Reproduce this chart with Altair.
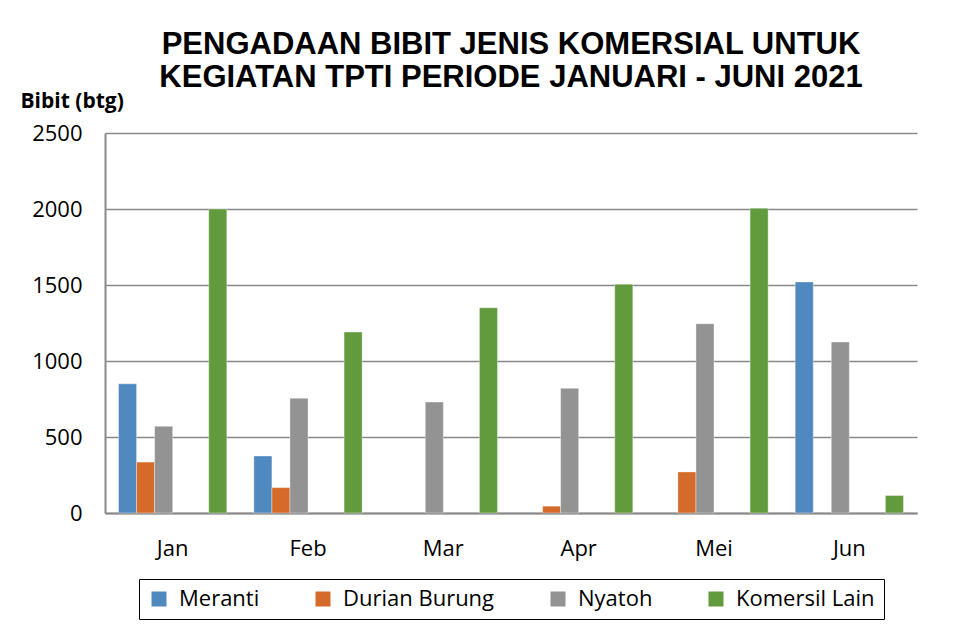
import altair as alt
import pandas as pd

months = ["Jan", "Feb", "Mar", "Apr", "Mei", "Jun"]
series = ["Meranti", "Durian Burung", "Nyatoh", "Komersil Lain"]
meranti = [850, 375, 0, 0, 0, 1520]
durian_burung = [335, 167, 0, 45, 270, 0]
nyatoh = [570, 755, 730, 820, 1245, 1125]
komersil_lain = [2000, 1190, 1350, 1505, 2005, 115]
colors = ["#4F89C0", "#D56B2A", "#939393", "#629B3E"]
# slot order within each month (two empty slots as in the original)
slots = ["Meranti", "Durian Burung", "Nyatoh", "_slot4", "_slot5", "Komersil Lain"]
y_ticks = [0, 500, 1000, 1500, 2000, 2500]

rows = []
for name, vals in zip(series, [meranti, durian_burung, nyatoh, komersil_lain]):
    for m, v in zip(months, vals):
        rows.append({"Bulan": m, "Jenis": name, "Bibit": v})
df = pd.DataFrame(rows)

FONT = "Open Sans"

chart = alt.Chart(df).transform_filter(
    alt.datum.Bibit > 0
).mark_bar(stroke="white", strokeWidth=0.6, strokeOpacity=0.6).encode(
    x=alt.X("Bulan:N", sort=months, scale=alt.Scale(domain=months, paddingInner=0, paddingOuter=0),
            axis=alt.Axis(title=None, labelAngle=0, ticks=False, labelPadding=25,
                          labelFontSize=22, labelFont=FONT, labelColor="#000000",
                          domainColor="#898989", domainWidth=2, grid=False)),
    xOffset=alt.XOffset("Jenis:N", scale=alt.Scale(domain=slots, paddingInner=0, paddingOuter=0.75)),
    y=alt.Y("Bibit:Q", scale=alt.Scale(domain=[0, 2500]),
            axis=alt.Axis(values=y_ticks, format="d", title="Bibit (btg)",
                          titleAngle=0, titleAlign="left", titleBaseline="alphabetic",
                          titleX=-85, titleY=-26, titleFontSize=21, titleFont=FONT,
                          titleFontWeight="bold", titleColor="#000000",
                          ticks=False, labelPadding=23, labelFontSize=22, labelFont=FONT,
                          labelColor="#000000", domainColor="#898989", domainWidth=2,
                          gridColor="#898989", gridWidth=1.4)),
    color=alt.Color("Jenis:N", scale=alt.Scale(domain=series, range=colors),
                    legend=alt.Legend(title=None, orient="none", direction="horizontal",
                                      legendX=34, legendY=446, symbolType="square",
                                      symbolSize=225, symbolStrokeWidth=0, labelOffset=9,
                                      labelFontSize=22, labelFont=FONT, labelColor="#000000",
                                      columnPadding=52, padding=9, strokeColor="#000000")),
).properties(
    width=812,
    height=380,
    title=alt.Title(["PENGADAAN BIBIT JENIS KOMERSIAL UNTUK",
                     "KEGIATAN TPTI PERIODE JANUARI - JUNI 2021"],
                    font="Liberation Sans", fontSize=31, fontWeight="bold",
                    color="#000000", lineHeight=33, anchor="middle", offset=8, dy=12),
    autosize=alt.AutoSizeParams(type="none"),
    padding={"left": 97, "top": 125, "right": 30, "bottom": 110},
).configure_view(stroke=None)

chart.save("out.html", embed_options={"renderer": "svg", "actions": False})
